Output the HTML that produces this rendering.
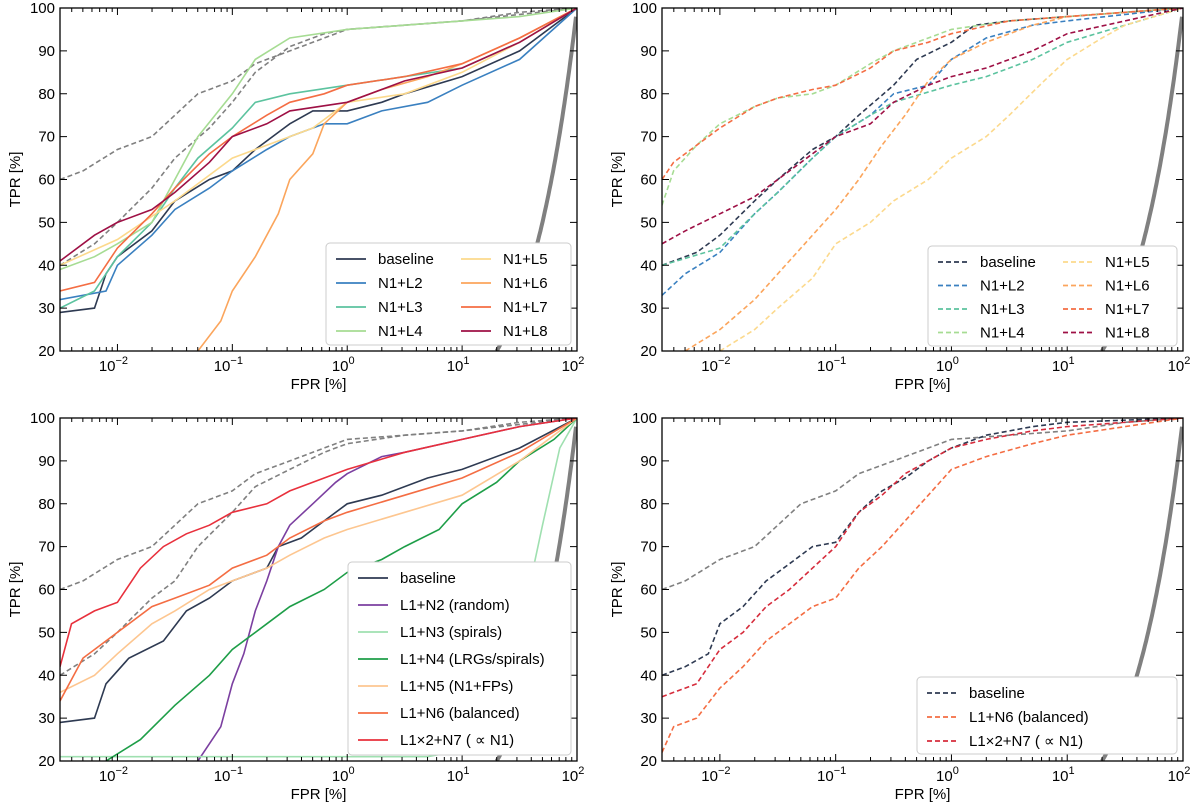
<!DOCTYPE html>
<html><head><meta charset="utf-8">
<style>
body{margin:0;background:#fff;}
svg{display:block;font-family:"Liberation Sans","DejaVu Sans",sans-serif;}
</style></head>
<body>
<svg id="chart" width="1200" height="802" viewBox="0 0 1200 802"></svg>
<script>
const yTicks=[20,30,40,50,60,70,80,90,100];
const xDecades=[-2,-1,0,1,2];
const grayTop=[[-2.5,60],[-2.3,62],[-2,67],[-1.7,70],[-1.5,75],[-1.3,80],[-1,83],[-0.8,87],[-0.5,90],[-0.2,93],[0,95],[0.5,96],[1,97],[1.5,99],[2,100]];
const grayMid1=[[-2.5,40],[-2.2,45],[-2,50],[-1.7,58],[-1.5,65],[-1.2,72],[-1,78],[-0.8,85],[-0.5,91],[-0.2,94],[0,95],[1,97],[2,100]];
const grayMid3=[[-2.5,40],[-2.2,45],[-2,50],[-1.7,58],[-1.5,62],[-1.3,70],[-1,78],[-0.8,84],[-0.5,88],[-0.2,92],[0,94],[0.5,96],[1,97],[2,100]];
// Panel A
const aBaseline=[[-2.5,29],[-2.2,30],[-2.1,38],[-2,42],[-1.7,48],[-1.5,55],[-1.2,60],[-1,62],[-0.8,67],[-0.5,73],[-0.3,76],[0,76],[0.3,78],[0.5,80],[1,84],[1.5,90],[2,100]];
const aL2=[[-2.5,32],[-2.1,34],[-2,40],[-1.7,47],[-1.5,53],[-1.2,58],[-1,62],[-0.7,67],[-0.5,70],[-0.2,73],[0,73],[0.3,76],[0.7,78],[1,82],[1.5,88],[2,100]];
const aL3=[[-2.5,30],[-2.2,34],[-2,42],[-1.7,50],[-1.5,58],[-1.3,65],[-1,72],[-0.8,78],[-0.5,80],[0,82],[0.5,84],[1,86],[1.5,92],[2,100]];
const aL4=[[-2.5,39],[-2.2,42],[-2,45],[-1.7,50],[-1.5,60],[-1.3,70],[-1,80],[-0.8,88],[-0.5,93],[0,95],[0.5,96],[1,97],[1.5,98],[2,100]];
const aL5=[[-2.5,40],[-2,46],[-1.5,55],[-1,65],[-0.5,70],[-0.3,72],[0,78],[0.5,80],[1,85],[1.5,92],[2,100]];
const aL6=[[-1.3,20],[-1.1,27],[-1,34],[-0.8,42],[-0.6,52],[-0.5,60],[-0.3,66],[-0.2,73],[0,78],[0.3,81],[0.7,84],[1,87],[1.5,93],[2,100]];
const aL7=[[-2.5,34],[-2.2,36],[-2,44],[-1.7,52],[-1.5,58],[-1.2,66],[-1,70],[-0.7,75],[-0.5,78],[-0.2,80],[0,82],[0.5,84],[1,87],[1.5,93],[2,100]];
const aL8=[[-2.5,41],[-2.2,47],[-2,50],[-1.7,53],[-1.5,57],[-1.2,64],[-1,70],[-0.7,73],[-0.5,76],[0,78],[0.5,83],[1,86],[1.5,92],[2,100]];
// Panel B
const bBaseline=[[-2.5,40],[-2.2,43],[-2,47],[-1.7,55],[-1.5,60],[-1.2,67],[-1,70],[-0.8,75],[-0.5,82],[-0.3,88],[0,92],[0.2,96],[0.5,97],[1,98],[2,100]];
const bL2=[[-2.5,33],[-2.3,38],[-2,43],[-1.7,52],[-1.5,57],[-1.2,65],[-1,70],[-0.7,75],[-0.5,80],[-0.2,82],[0,88],[0.3,93],[0.7,96],[1,97],[2,100]];
const bL3=[[-2.5,40],[-2,44],[-1.7,52],[-1.5,57],[-1.2,65],[-1,70],[-0.7,75],[-0.5,78],[0,82],[0.3,84],[0.7,88],[1,92],[1.5,96],[2,100]];
const bL4=[[-2.5,54],[-2.4,62],[-2.2,68],[-2,73],[-1.7,77],[-1.5,79],[-1.2,80],[-1,82],[-0.7,87],[-0.5,90],[-0.2,93],[0,95],[0.5,97],[1,98],[2,100]];
const bL5=[[-2,20],[-1.7,25],[-1.5,30],[-1.2,37],[-1,45],[-0.7,50],[-0.5,55],[-0.2,60],[0,65],[0.3,70],[0.5,75],[0.8,83],[1,88],[1.3,93],[1.5,96],[2,100]];
const bL6=[[-2.3,20],[-2,25],[-1.7,32],[-1.5,38],[-1.2,47],[-1,53],[-0.8,60],[-0.6,68],[-0.4,75],[-0.2,83],[0,88],[0.3,92],[0.7,96],[1,98],[2,100]];
const bL7=[[-2.5,60],[-2.4,64],[-2.2,68],[-2,72],[-1.7,77],[-1.5,79],[-1.2,81],[-1,82],[-0.7,86],[-0.5,90],[-0.2,92],[0,94],[0.5,97],[1,98],[2,100]];
const bL8=[[-2.5,45],[-2.3,48],[-2,52],[-1.7,56],[-1.5,60],[-1.2,66],[-1,70],[-0.7,73],[-0.5,78],[-0.2,82],[0,84],[0.3,86],[0.7,90],[1,94],[1.5,97],[2,100]];
// Panel C
const cBaseline=[[-2.5,29],[-2.2,30],[-2.1,38],[-1.9,44],[-1.6,48],[-1.4,55],[-1.2,58],[-1,62],[-0.7,65],[-0.6,70],[-0.4,72],[-0.2,76],[0,80],[0.3,82],[0.7,86],[1,88],[1.5,93],[2,100]];
const cN2=[[-1.3,20],[-1.1,28],[-1,38],[-0.9,45],[-0.8,55],[-0.7,62],[-0.6,70],[-0.5,75],[-0.3,80],[-0.1,85],[0,87],[0.3,91],[0.5,92],[1,95],[1.5,98],[2,100]];
const cN3=[[-2.5,21],[0.7,21],[0.9,22],[1.2,30],[1.5,50],[1.7,75],[1.85,93],[2,100]];
const cN4=[[-2.1,20],[-1.8,25],[-1.5,33],[-1.2,40],[-1,46],[-0.7,52],[-0.5,56],[-0.2,60],[0,64],[0.3,67],[0.5,70],[0.8,74],[1,80],[1.3,85],[1.5,90],[1.8,95],[2,100]];
const cN5=[[-2.5,36],[-2.2,40],[-2,45],[-1.7,52],[-1.5,55],[-1.2,60],[-1,62],[-0.7,65],[-0.5,68],[-0.2,72],[0,74],[0.5,78],[1,82],[1.5,90],[2,100]];
const cN6=[[-2.5,34],[-2.3,44],[-2,50],[-1.7,56],[-1.5,58],[-1.2,61],[-1,65],[-0.7,68],[-0.5,72],[-0.2,76],[0,78],[0.5,82],[1,86],[1.5,92],[2,100]];
const cN7=[[-2.5,42],[-2.4,52],[-2.2,55],[-2,57],[-1.8,65],[-1.6,70],[-1.4,73],[-1.2,75],[-1,78],[-0.7,80],[-0.5,83],[-0.2,86],[0,88],[0.5,92],[1,95],[1.5,98],[2,100]];
// Panel D
const dBaseline=[[-2.5,40],[-2.3,42],[-2.1,45],[-2,52],[-1.8,56],[-1.6,62],[-1.4,66],[-1.2,70],[-1,71],[-0.8,78],[-0.6,83],[-0.4,86],[-0.2,90],[0,93],[0.3,96],[0.7,98],[1,99],[2,100]];
const dN6=[[-2.5,22],[-2.4,28],[-2.2,30],[-2,37],[-1.8,42],[-1.6,48],[-1.4,52],[-1.2,56],[-1,58],[-0.8,65],[-0.6,70],[-0.4,76],[-0.2,82],[0,88],[0.3,91],[0.7,94],[1,96],[1.5,98],[2,100]];
const dN7=[[-2.5,35],[-2.2,38],[-2,46],[-1.8,50],[-1.6,56],[-1.4,60],[-1.2,65],[-1,70],[-0.8,78],[-0.6,82],[-0.4,87],[-0.2,90],[0,93],[0.3,95],[0.7,97],[1,98],[2,100]];

const NS='http://www.w3.org/2000/svg';
const svg=document.getElementById('chart');
function mk(tag,attrs,parent){const e=document.createElementNS(NS,tag);for(const k in attrs)e.setAttribute(k,attrs[k]);(parent||svg).appendChild(e);return e;}

function panel(id,x0,x1,y0,y1,series,legend){
  const g=mk('g',{});
  
  
  const sx=v=>x0+(v+2.5)/4.5*(x1-x0);
  const sy=v=>y1-(v-20)/80*(y1-y0);
  const clip=mk('clipPath',{id:'clip-'+id},g);
  mk('rect',{x:x0,y:y0,width:x1-x0,height:y1-y0},clip);
  const plot=mk('g',{'clip-path':'url(#clip-'+id+')'},g);
  // random diagonal
  let pts=[];
  for(let l=Math.log10(20);l<=2.0001;l+=0.01){pts.push(sx(l).toFixed(1)+','+sy(Math.pow(10,l)).toFixed(1));}
  const diag=mk('polyline',{points:pts.join(' '),fill:'none',stroke:'#808080','stroke-width':4},plot);
  
  
  series.forEach(s=>{
    const p=s.data.map(d=>sx(d[0]).toFixed(1)+','+sy(d[1]).toFixed(1)).join(' ');
    const pl=mk('polyline',{points:p,fill:'none',stroke:s.color,'stroke-width':1.6,'stroke-dasharray':s.dash?'5,3':'none'},plot);
    
    
  });
  mk('rect',{x:x0,y:y0,width:x1-x0,height:y1-y0,fill:'none',stroke:'#000','stroke-width':1.3},g);
  // ticks
  yTicks.forEach(v=>{
    const y=sy(v);
    mk('line',{x1:x0,x2:x0+7,y1:y,y2:y,stroke:'#000'},g);
    mk('line',{x1:x1,x2:x1-7,y1:y,y2:y,stroke:'#000'},g);
    const t=mk('text',{x:x0-5,y:y+5,'text-anchor':'end','font-size':15},g);t.textContent=v;
  });
  for(let d=-3;d<=2;d++){
    for(let m=1;m<10;m++){
      const l=d+Math.log10(m); if(l<-2.5||l>2) continue;
      const x=sx(l), len=m===1?7:4;
      mk('line',{x1:x,x2:x,y1:y1,y2:y1-len,stroke:'#000'},g);
      mk('line',{x1:x,x2:x,y1:y0,y2:y0+len,stroke:'#000'},g);
    }
  }
  xDecades.forEach(d=>{
    const t=mk('text',{x:sx(d)-4,y:y1+20,'text-anchor':'middle','font-size':15},g);
    t.appendChild(document.createTextNode('10'));
    const sp=mk('tspan',{dy:-7,'font-size':11},t);sp.textContent=d<0?'−'+(-d):String(d);
  });
  const xl=mk('text',{x:(x0+x1)/2,y:y1+38,'text-anchor':'middle','font-size':15},g);xl.textContent='FPR [%]';
  
  const yl=mk('text',{x:0,y:0,'text-anchor':'middle','font-size':15,transform:`translate(${x0-40},${(y0+y1)/2}) rotate(-90)`},g);yl.textContent='TPR [%]';
  
  // legend
  const L=mk('g',{},g);
  
  
  mk('rect',{x:legend.x,y:legend.y,width:legend.w,height:legend.h,rx:4,fill:'#fff',stroke:'#ccc'},L);
  const items=series.filter(s=>s.label);
  items.forEach((s,i)=>{
    const col=legend.cols===2?Math.floor(i/4):0, row=legend.cols===2?i%4:i;
    const lx=legend.x+10+col*legend.colw, ly=legend.y+16+row*legend.rowh;
    const e=mk('g',{},L);
    
    
    mk('line',{x1:lx,x2:lx+30,y1:ly,y2:ly,stroke:s.color,'stroke-width':1.8,'stroke-dasharray':s.dash?'5,3':'none'},e);
    const t=mk('text',{x:lx+42,y:ly+5,'font-size':15},e);t.textContent=s.label;
  });
}

const G='#808080';
panel('panel-top-left',60,577,8,351,[
  {key:'gray-top',data:grayTop,color:G,dash:1},{key:'gray-mid',data:grayMid1,color:G,dash:1},
  {key:'baseline',data:aBaseline,color:'#2e3a52',label:'baseline'},
  {key:'n1-l2',data:aL2,color:'#3a80c0',label:'N1+L2'},
  {key:'n1-l3',data:aL3,color:'#5cc39f',label:'N1+L3'},
  {key:'n1-l4',data:aL4,color:'#a6dc93',label:'N1+L4'},
  {key:'n1-l5',data:aL5,color:'#fcd98c',label:'N1+L5'},
  {key:'n1-l6',data:aL6,color:'#fba55c',label:'N1+L6'},
  {key:'n1-l7',data:aL7,color:'#f46d43',label:'N1+L7'},
  {key:'n1-l8',data:aL8,color:'#9e1045',label:'N1+L8'}
],{x:326,y:243,w:245,h:102,cols:2,colw:125,rowh:24});

panel('panel-top-right',662,1183,8,351,[
  {key:'baseline',data:bBaseline,color:'#2e3a52',dash:1,label:'baseline'},
  {key:'n1-l2',data:bL2,color:'#3a80c0',dash:1,label:'N1+L2'},
  {key:'n1-l3',data:bL3,color:'#5cc39f',dash:1,label:'N1+L3'},
  {key:'n1-l4',data:bL4,color:'#a6dc93',dash:1,label:'N1+L4'},
  {key:'n1-l5',data:bL5,color:'#fcd98c',dash:1,label:'N1+L5'},
  {key:'n1-l6',data:bL6,color:'#fba55c',dash:1,label:'N1+L6'},
  {key:'n1-l7',data:bL7,color:'#f46d43',dash:1,label:'N1+L7'},
  {key:'n1-l8',data:bL8,color:'#9e1045',dash:1,label:'N1+L8'}
],{x:928,y:246,w:249,h:100,cols:2,colw:125,rowh:23.5});

panel('panel-bottom-left',60,577,418,761,[
  {key:'gray-top',data:grayTop,color:G,dash:1},{key:'gray-mid',data:grayMid3,color:G,dash:1},
  {key:'baseline',data:cBaseline,color:'#2e3a52',label:'baseline'},
  {key:'l1-n2',data:cN2,color:'#7b3fa0',label:'L1+N2 (random)'},
  {key:'l1-n3',data:cN3,color:'#9fe0b0',label:'L1+N3 (spirals)'},
  {key:'l1-n4',data:cN4,color:'#1e9e48',label:'L1+N4 (LRGs/spirals)'},
  {key:'l1-n5',data:cN5,color:'#fdc690',label:'L1+N5 (N1+FPs)'},
  {key:'l1-n6',data:cN6,color:'#f46d43',label:'L1+N6 (balanced)'},
  {key:'l1x2-n7',data:cN7,color:'#e8303c',label:'L1×2+N7 ( ∝ N1)'}
],{x:348,y:562,w:223,h:193,cols:1,colw:0,rowh:27});

panel('panel-bottom-right',662,1183,418,761,[
  {key:'gray-top',data:grayTop,color:G,dash:1},
  {key:'baseline',data:dBaseline,color:'#2e3a52',dash:1,label:'baseline'},
  {key:'l1-n6',data:dN6,color:'#f46d43',dash:1,label:'L1+N6 (balanced)'},
  {key:'l1x2-n7',data:dN7,color:'#d62c3c',dash:1,label:'L1×2+N7 ( ∝ N1)'}
],{x:917,y:677,w:260,h:77,cols:1,colw:0,rowh:24});
</script>
</body></html>
